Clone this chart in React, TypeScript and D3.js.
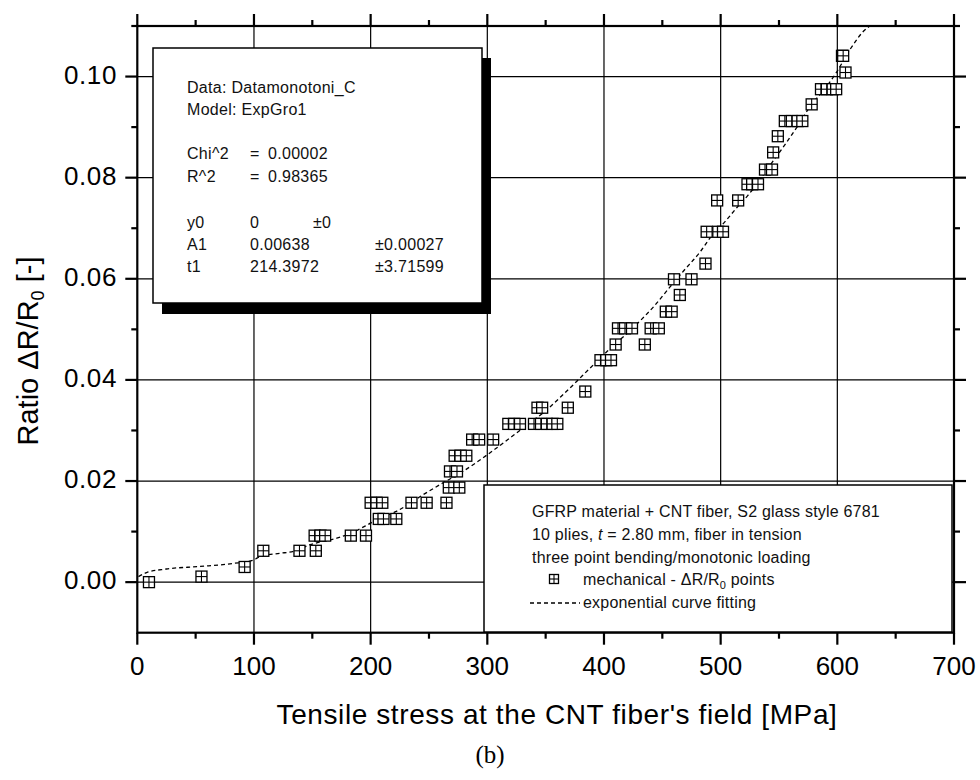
import React from "react";
import * as d3 from "d3";

// ---- data ----
const pointStress = [
  10, 55, 92,
  108, 139, 153,
  152, 157, 161, 183, 196,
  207, 211, 222,
  200, 205, 210, 235, 248, 265,
  267, 276,
  268, 274,
  272, 277, 282,
  287, 293, 305,
  318, 323, 328, 340, 346, 351, 356, 360,
  343, 347, 369,
  384,
  397, 402, 406,
  410, 435,
  412, 418, 424, 440, 447,
  453, 458,
  465,
  460, 475,
  487,
  488, 498, 502,
  497, 515,
  523, 527, 532,
  538, 544,
  545,
  549,
  555, 561, 566, 570,
  578,
  586, 591, 596, 599,
  607,
  604, 605,
];
const pointRatio = [
  0.0, 0.0011, 0.003,
  0.0062, 0.0062, 0.0062,
  0.0092, 0.0092, 0.0092, 0.0092, 0.0092,
  0.0125, 0.0125, 0.0125,
  0.0157, 0.0157, 0.0157, 0.0157, 0.0157, 0.0157,
  0.0187, 0.0187,
  0.0219, 0.0219,
  0.025, 0.025, 0.025,
  0.0282, 0.0282, 0.0282,
  0.0313, 0.0313, 0.0313, 0.0313, 0.0313, 0.0313, 0.0313, 0.0313,
  0.0345, 0.0345, 0.0345,
  0.0377,
  0.0439, 0.0439, 0.0439,
  0.047, 0.047,
  0.0502, 0.0502, 0.0502, 0.0502, 0.0502,
  0.0535, 0.0535,
  0.0568,
  0.0599, 0.0599,
  0.063,
  0.0693, 0.0693, 0.0693,
  0.0755, 0.0755,
  0.0787, 0.0787, 0.0787,
  0.0816, 0.0816,
  0.085,
  0.0882,
  0.0912, 0.0912, 0.0912, 0.0912,
  0.0945,
  0.0975, 0.0975, 0.0975, 0.0975,
  0.1008,
  0.1041, 0.1041,
];

const curveStress = [
  1, 8, 25, 54, 82, 100, 103, 108, 122, 134, 148, 156, 171, 186, 197, 208, 222,
  245, 261, 277, 300, 325, 351, 365, 391, 403, 428, 443, 457, 468, 483, 491,
  503, 514, 523, 545, 566, 577, 590, 600, 611, 626, 628,
];
const curveRatio = [
  0.0011, 0.0019, 0.0026, 0.0031, 0.0037, 0.0044, 0.0048, 0.0052, 0.0057,
  0.0061, 0.0074, 0.0079, 0.0087, 0.01, 0.0113, 0.0127, 0.014, 0.0173, 0.0195,
  0.0216, 0.0252, 0.0295, 0.0341, 0.0371, 0.043, 0.0457, 0.051, 0.0546,
  0.0585, 0.0615, 0.0655, 0.0681, 0.0711, 0.0741, 0.0764, 0.0833, 0.0902,
  0.0942, 0.0978, 0.1011, 0.1054, 0.1097, 0.11,
];

const xMajorTicks = [0, 100, 200, 300, 400, 500, 600, 700];
const xMinorTicks = [50, 150, 250, 350, 450, 550, 650];
const yMajorTicks = [0.0, 0.02, 0.04, 0.06, 0.08, 0.1];
const yMinorTicks = [0.01, 0.03, 0.05, 0.07, 0.09, 0.11];
const xGrid = [100, 200, 300, 400, 500, 600];
const yGrid = [0.0, 0.02, 0.04, 0.06, 0.08, 0.1];

const statsLines = [
  ["Data: Datamonotoni_C"],
  ["Model: ExpGro1"],
];
const statsFit = [
  ["Chi^2", "=", "0.00002"],
  ["R^2", "=", "0.98365"],
];
const statsParams = [
  ["y0", "0", "±0", ""],
  ["A1", "0.00638", "", "±0.00027"],
  ["t1", "214.3972", "", "±3.71599"],
];

const W = 980;
const H = 780;
const X0 = 137.3;
const X1 = 954;
const Y0 = 632.7;
const Y1 = 26;

const FONT = "'Liberation Sans', Arial, sans-serif";

function Marker({ cx, cy, s = 5.5 }: { cx: number; cy: number; s?: number }) {
  return (
    <g>
      <rect x={cx - s} y={cy - s} width={2 * s} height={2 * s} fill="white" stroke="black" strokeWidth={1.3} />
      <line x1={cx} x2={cx} y1={cy - s} y2={cy + s} stroke="black" strokeWidth={1.1} />
      <line x1={cx - s} x2={cx + s} y1={cy} y2={cy} stroke="black" strokeWidth={1.1} />
    </g>
  );
}

export default function App() {
  const x = d3.scaleLinear().domain([0, 700]).range([X0, X1]);
  const y = d3.scaleLinear().domain([-0.01, 0.11]).range([Y0, Y1]);

  const curveData = curveStress.map((s, i) => [s, curveRatio[i]] as [number, number]);
  const linePath =
    d3
      .line<[number, number]>()
      .x((d) => x(d[0]))
      .y((d) => y(d[1]))
      .curve(d3.curveMonotoneX)(curveData) || "";

  const major = 12;
  const minor = 6;

  return (
    <svg
      width={W}
      height={H}
      viewBox={`0 0 ${W} ${H}`}
      style={{ position: "absolute", left: 0, top: 0, background: "white" }}
      fontFamily={FONT}
    >
      <rect x={0} y={0} width={W} height={H} fill="white" />

      {/* grid */}
      {xGrid.map((v) => (
        <line key={"gx" + v} x1={x(v)} x2={x(v)} y1={Y1} y2={Y0} stroke="black" strokeWidth={1.2} />
      ))}
      {yGrid.map((v) => (
        <line key={"gy" + v} x1={X0} x2={X1} y1={y(v)} y2={y(v)} stroke="black" strokeWidth={1.2} />
      ))}

      {/* fit curve */}
      <path d={linePath} fill="none" stroke="black" strokeWidth={1.3} strokeDasharray="4,3" />

      {/* points */}
      {pointStress.map((s, i) => (
        <Marker key={"p" + i} cx={x(s)} cy={y(pointRatio[i])} />
      ))}

      {/* frame */}
      <rect x={X0} y={Y1} width={X1 - X0} height={Y0 - Y1} fill="none" stroke="black" strokeWidth={2.2} />

      {/* ticks */}
      {xMajorTicks.map((v) => (
        <g key={"xt" + v}>
          <line x1={x(v)} x2={x(v)} y1={Y0} y2={Y0 + major} stroke="black" strokeWidth={2.2} />
          <line x1={x(v)} x2={x(v)} y1={Y1} y2={Y1 - major} stroke="black" strokeWidth={2.2} />
          <text x={x(v)} y={675} textAnchor="middle" fontSize={26} fill="black">
            {d3.format("d")(v)}
          </text>
        </g>
      ))}
      {xMinorTicks.map((v) => (
        <g key={"xm" + v}>
          <line x1={x(v)} x2={x(v)} y1={Y0} y2={Y0 + minor} stroke="black" strokeWidth={2.2} />
          <line x1={x(v)} x2={x(v)} y1={Y1} y2={Y1 - minor} stroke="black" strokeWidth={2.2} />
        </g>
      ))}
      {yMajorTicks.map((v) => (
        <g key={"yt" + v}>
          <line x1={X0 - major} x2={X0} y1={y(v)} y2={y(v)} stroke="black" strokeWidth={2.2} />
          <line x1={X1} x2={X1 + major} y1={y(v)} y2={y(v)} stroke="black" strokeWidth={2.2} />
          <text x={117} y={y(v) + 7} textAnchor="end" fontSize={26} letterSpacing={0.6} fill="black">
            {d3.format(".2f")(v)}
          </text>
        </g>
      ))}
      {yMinorTicks.map((v) => (
        <g key={"ym" + v}>
          <line x1={X0 - minor} x2={X0} y1={y(v)} y2={y(v)} stroke="black" strokeWidth={2.2} />
          <line x1={X1} x2={X1 + minor} y1={y(v)} y2={y(v)} stroke="black" strokeWidth={2.2} />
        </g>
      ))}

      {/* axis titles */}
      <text x={557} y={724} textAnchor="middle" fontSize={28} letterSpacing={0.6} fill="black">
        Tensile stress at the CNT fiber's field [MPa]
      </text>
      <text transform="translate(38,351) rotate(-90)" textAnchor="middle" fontSize={29} fill="black">
        Ratio ΔR/R
        <tspan dy={6} fontSize={18}>0</tspan>
        <tspan dy={-6}> [-]</tspan>
      </text>
      <text x={490} y={763} textAnchor="middle" fontSize={25} fontFamily="'Liberation Serif', 'Times New Roman', serif" fill="black">
        (b)
      </text>

      {/* stats box */}
      <rect x={162} y={58} width={329} height={256} fill="black" />
      <rect x={153} y={48} width={329} height={255} fill="white" stroke="black" strokeWidth={1.5} />
      <g fontSize={16} fill="#111" letterSpacing={0.3}>
        {statsLines.map((l, i) => (
          <text key={"sl" + i} x={187} y={93 + i * 22}>
            {l[0]}
          </text>
        ))}
        {statsFit.map((l, i) => (
          <g key={"sf" + i}>
            <text x={187} y={159 + i * 22.5}>{l[0]}</text>
            <text x={250} y={159 + i * 22.5}>{l[1]}</text>
            <text x={268} y={159 + i * 22.5}>{l[2]}</text>
          </g>
        ))}
        {statsParams.map((l, i) => (
          <g key={"sp" + i}>
            <text x={187} y={228 + i * 22}>{l[0]}</text>
            <text x={250} y={228 + i * 22}>{l[1]}</text>
            <text x={313} y={228 + i * 22}>{l[2]}</text>
            <text x={375} y={228 + i * 22}>{l[3]}</text>
          </g>
        ))}
      </g>

      {/* legend box */}
      <rect x={484} y={485} width={468} height={147} fill="white" stroke="black" strokeWidth={1.5} />
      <g fontSize={16} fill="#111" letterSpacing={0.2}>
        <text x={532} y={517}>GFRP material + CNT fiber, S2 glass style 6781</text>
        <text x={532} y={540}>
          10 plies, <tspan fontStyle="italic">t</tspan> = 2.80 mm, fiber in tension
        </text>
        <text x={532} y={563}>three point bending/monotonic loading</text>
        <text x={583} y={585}>
          mechanical - ΔR/R<tspan dy={4} fontSize={11}>0</tspan>
          <tspan dy={-4}> points</tspan>
        </text>
        <text x={583} y={608}>exponential curve fitting</text>
      </g>
      <Marker cx={554} cy={579} s={4.5} />
      <line x1={530} x2={580} y1={603} y2={603} stroke="black" strokeWidth={1.3} strokeDasharray="4,3" />
    </svg>
  );
}
